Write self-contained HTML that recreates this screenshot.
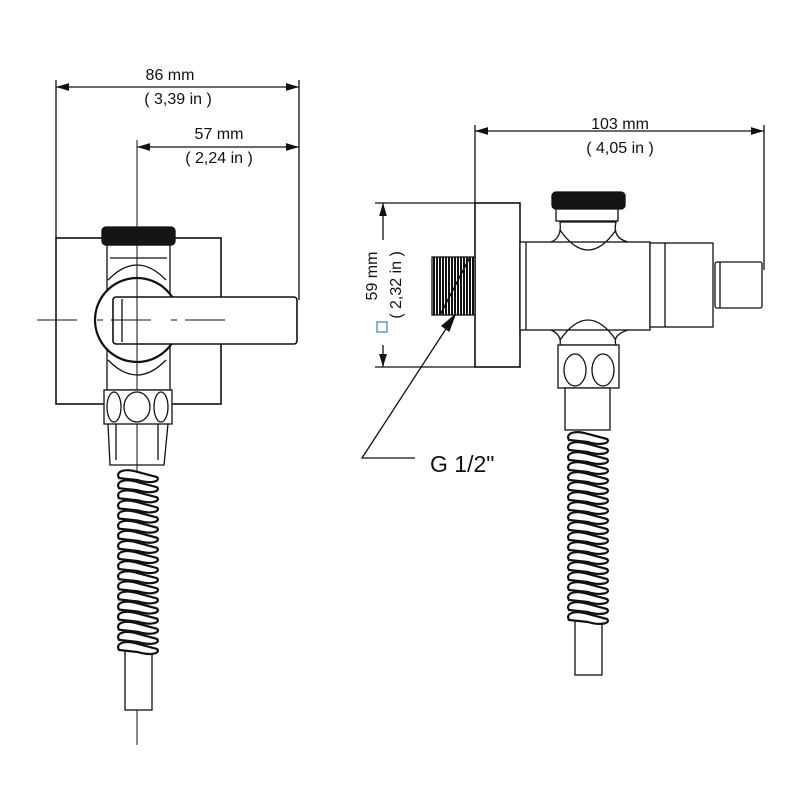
<!DOCTYPE html>
<html><head><meta charset="utf-8"><style>
html,body{margin:0;padding:0;background:#fff}
svg{display:block}
text{font-family:"Liberation Sans",sans-serif;fill:#111}
</style></head><body>
<svg id="s" width="800" height="800" viewBox="0 0 800 800" xmlns="http://www.w3.org/2000/svg">
<defs>
<marker id="a" markerWidth="10" markerHeight="6" refX="10" refY="3" orient="auto"><path d="M0,0 L10,3 L0,6 Z" fill="#111"/></marker>
<marker id="b" markerWidth="10" markerHeight="6" refX="0" refY="3" orient="auto"><path d="M10,0 L0,3 L10,6 Z" fill="#111"/></marker>
</defs>
<g stroke="#111" fill="none" stroke-width="1.3">
<line x1="56" y1="80" x2="56" y2="238"/>
<line x1="299" y1="80" x2="299" y2="300"/>
<line x1="56" y1="87" x2="299" y2="87" marker-start="url(#b)" marker-end="url(#a)"/>
<line x1="137" y1="147" x2="299" y2="147" marker-start="url(#b)" marker-end="url(#a)"/>
<line x1="137" y1="140" x2="137" y2="745" stroke-width="1"/>
<rect x="56" y="238" width="165" height="166" stroke-width="1.6"/>
<rect x="107" y="245" width="63" height="145" fill="#fff"/>
<rect x="102" y="227" width="73" height="18" rx="4" fill="#151515"/>
<line x1="110" y1="258" x2="167" y2="258"/>
<circle cx="137" cy="320" r="42" fill="#fff" stroke-width="2.2"/>
<path d="M108,280 Q137,250 166,280" />
<path d="M108,360 Q137,390 166,360" />
<rect x="113" y="297" width="184" height="47" rx="3" fill="#fff" stroke-width="1.6"/>
<line x1="122" y1="299" x2="122" y2="342"/>
<line x1="37" y1="320" x2="235" y2="320" stroke-dasharray="40 20 6 8" stroke-width="1"/>
<line x1="137" y1="230" x2="137" y2="745" stroke-width="1"/>
<rect x="104" y="390" width="68" height="34" fill="#fff"/>
<ellipse cx="114" cy="407" rx="7" ry="15"/>
<ellipse cx="137" cy="407" rx="13" ry="15"/>
<ellipse cx="161" cy="407" rx="7" ry="15"/>
<path d="M108,424 L110,465 L164,465 L168,424"/>
<line x1="116" y1="424" x2="116" y2="460"/><line x1="158" y1="424" x2="158" y2="460"/>
<rect x="125" y="650" width="27" height="60" fill="#fff"/>
<line x1="475" y1="125" x2="475" y2="205"/>
<line x1="764" y1="125" x2="764" y2="270"/>
<line x1="475" y1="131" x2="764" y2="131" marker-start="url(#b)" marker-end="url(#a)"/>
<line x1="375" y1="203" x2="475" y2="203"/>
<line x1="375" y1="367" x2="475" y2="367"/>
<line x1="383" y1="203" x2="383" y2="240" marker-start="url(#b)"/>
<line x1="383" y1="345" x2="383" y2="367" marker-end="url(#a)"/>
<rect x="475" y="203" width="45" height="164" stroke-width="1.6" fill="#fff"/>
<rect x="432" y="257" width="43" height="58" fill="#fff"/>
<g id="thr"></g>
<rect x="520" y="242" width="130" height="88" fill="#fff"/>
<line x1="526" y1="242" x2="526" y2="330"/>
<rect x="650" y="243" width="63" height="84" fill="#fff"/>
<line x1="665" y1="243" x2="665" y2="327"/>
<rect x="715" y="262" width="47" height="46" rx="2" fill="#fff"/>
<line x1="720" y1="262" x2="720" y2="308"/>
<rect x="552" y="192" width="73" height="17" rx="4" fill="#151515"/>
<rect x="556" y="209" width="62" height="12" fill="#fff"/>
<path d="M551,242 Q562,238 560,222 L616,222 Q612,238 628,242"/>
<path d="M560,230 Q588,270 616,230"/>
<path d="M551,330 Q562,335 560,345 L616,345 Q612,335 628,330"/>
<path d="M560,340 Q588,300 616,340"/>
<rect x="558" y="345" width="61" height="43" fill="#fff"/>
<ellipse cx="575" cy="370" rx="11" ry="16"/>
<ellipse cx="603" cy="370" rx="11" ry="16"/>
<rect x="565" y="388" width="45" height="42" fill="#fff"/>
<rect x="575" y="620" width="27" height="55" fill="#fff"/>
<polyline points="455,315 362,458 415,458"/>
<path d="M455,315 L442,326 L449,331 Z" fill="#111"/>
<rect x="377" y="322" width="10" height="10" stroke="#3a7ec8" stroke-width="1.2"/>
<g id="coils"></g>
</g>
<text x="170" y="80" font-size="16" text-anchor="middle">86 mm</text>
<text x="178" y="104" font-size="16" text-anchor="middle">( 3,39 in )</text>
<text x="219" y="139" font-size="16" text-anchor="middle">57 mm</text>
<text x="219" y="163" font-size="16" text-anchor="middle">( 2,24 in )</text>
<text x="620" y="129" font-size="16" text-anchor="middle">103 mm</text>
<text x="620" y="153" font-size="16" text-anchor="middle">( 4,05 in )</text>
<text transform="translate(377,276) rotate(-90)" font-size="16" text-anchor="middle">59 mm</text>
<text transform="translate(401,285) rotate(-90)" font-size="16" text-anchor="middle">( 2,32 in )</text>
<text x="430" y="472" font-size="23">G 1/2"</text>
</svg>
<script>
var ns='http://www.w3.org/2000/svg';
var t=document.getElementById('thr');
for(var x=434;x<474;x+=3){var l=document.createElementNS(ns,'path');
l.setAttribute('d','M'+x+',257 L'+x+',315');l.setAttribute('stroke-width','2');t.appendChild(l);}
var d=document.createElementNS(ns,'path');d.setAttribute('d','M440,315 L470,257');d.setAttribute('stroke-width','1.5');t.appendChild(d);
var g=document.getElementById('coils');
function spring(x1,x2,y1,y2){var n=Math.round((y2-y1)/10);var h=(y2-y1)/n;
for(var i=0;i<n;i++){var y=y1+i*h;var p=document.createElementNS(ns,'path');
p.setAttribute('d','M'+x1+','+(y+h)+' C'+(x1-4)+','+(y+h*0.3)+' '+(x1+6)+','+y+' '+((x1+x2)/2)+','+(y+h*0.4)+' L'+x2+','+(y+h*0.9)+' C'+(x2+4)+','+(y+h*1.3)+' '+(x2-6)+','+(y+h*1.6)+' '+((x1+x2)/2)+','+(y+h*1.2)+' Z');
p.setAttribute('fill','#fff');p.setAttribute('stroke-width','2.2');g.appendChild(p);}}
spring(119,157,468,650);spring(569,607,430,620);
</script>
</body></html>
